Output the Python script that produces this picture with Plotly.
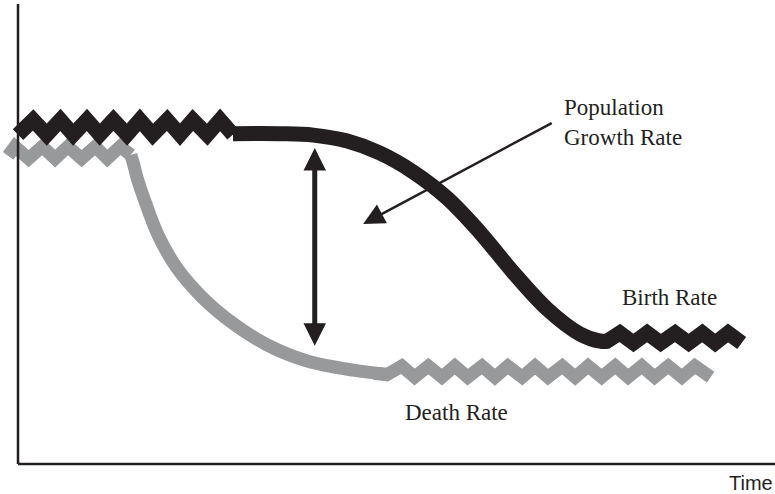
import plotly.graph_objects as go

# Demographic transition: birth rate (black) and death rate (grey) over time.
# Units: time 0-100 on x, rate 0-100 on y. Zigzag stretches mark the
# fluctuating pre- and post-transition rates.

birth_early_time = [0, 2.0, 3.8, 5.6, 7.3, 9.1, 10.8, 12.6, 14.4, 16.1, 17.8, 19.7, 21.4, 23.1, 25.0, 26.7, 28.4]
birth_early_rate = [71.6, 74.8, 71.6, 74.8, 71.6, 74.8, 71.6, 74.8, 71.6, 74.8, 71.6, 74.8, 71.6, 74.8, 71.6, 74.8, 71.6]

birth_trans_time = [28.4, 34.6, 39.0, 43.5, 47.8, 52.2, 56.7, 61.0, 65.4, 69.9, 74.2, 76.9, 77.8]
birth_trans_rate = [71.8, 71.8, 71.5, 70.2, 67.6, 63.5, 57.8, 50.4, 41.7, 33.7, 28.3, 26.7, 26.7]

birth_late_time = [76.9, 77.8, 79.5, 81.3, 83.1, 84.9, 86.8, 88.6, 90.4, 92.1, 93.8, 95.6]
birth_late_rate = [26.7, 26.7, 28.5, 26.3, 28.5, 26.3, 28.5, 26.3, 28.5, 26.3, 28.5, 26.3]

death_early_time = [-1.3, -0.4, 1.4, 3.2, 4.9, 6.6, 8.4, 10.2, 11.8, 13.5, 14.9]
death_early_rate = [67.0, 69.0, 66.4, 69.0, 66.4, 69.0, 66.4, 69.0, 66.4, 69.0, 67.2]

death_trans_time = [14.9, 15.3, 15.7, 16.8, 18.5, 21.0, 24.3, 28.3, 32.9, 38.2, 44.3, 48.7]
death_trans_rate = [67.2, 65.0, 62.4, 57.0, 49.8, 42.6, 36.3, 30.7, 25.9, 22.4, 20.4, 19.5]

death_late_time = [47.0, 48.7, 50.7, 52.4, 54.2, 56.0, 57.7, 59.4, 61.3, 63.0, 64.7, 66.6, 68.3,
                   70.0, 71.9, 73.6, 75.3, 77.1, 78.9, 80.6, 82.4, 84.1, 85.9, 87.7, 89.4, 91.5]
death_late_rate = [19.7, 19.4, 21.3, 18.9, 21.3, 18.9, 21.3, 18.9, 21.3, 18.9, 21.3, 18.9, 21.3,
                   18.9, 21.3, 18.9, 21.3, 18.9, 21.3, 18.9, 21.3, 18.9, 21.3, 18.9, 21.3, 18.9]

BLACK = '#231f20'
GREY = '#97999b'
SERIF = 'Liberation Serif'

fig = go.Figure()

death_parts = [
    (death_early_time, death_early_rate, 'linear'),
    (death_trans_time, death_trans_rate, 'spline'),
    (death_late_time, death_late_rate, 'linear'),
]
for xs, ys, shape in death_parts:
    fig.add_trace(go.Scatter(
        x=xs, y=ys, mode='lines',
        line=dict(color=GREY, width=13, shape=shape),
        hoverinfo='skip'
    ))

birth_parts = [
    (birth_early_time, birth_early_rate, 'linear'),
    (birth_trans_time, birth_trans_rate, 'spline'),
    (birth_late_time, birth_late_rate, 'linear'),
]
for xs, ys, shape in birth_parts:
    fig.add_trace(go.Scatter(
        x=xs, y=ys, mode='lines',
        line=dict(color=BLACK, width=15, shape=shape),
        hoverinfo='skip'
    ))

# axes drawn as plain lines
fig.add_shape(type='line', x0=0, y0=0, x1=0, y1=100, line=dict(color=BLACK, width=2.5))
fig.add_shape(type='line', x0=0, y0=0, x1=100, y1=0, line=dict(color=BLACK, width=2.5))

# gap between the two rates
fig.add_annotation(
    x=39.2, y=68.7, ax=39.2, ay=25.4, axref='x', ayref='y',
    text='', showarrow=True, arrowside='end+start',
    arrowhead=2, startarrowhead=2, arrowsize=0.9, startarrowsize=0.9,
    arrowwidth=5, arrowcolor=BLACK
)
fig.add_annotation(
    x=45.6, y=52.2, ax=70.7, ay=74.3, axref='x', ayref='y',
    text='', showarrow=True, arrowhead=2, arrowsize=1.7,
    arrowwidth=2.5, arrowcolor=BLACK
)

labels = [
    ('Population<br>Growth Rate', 71.9, 74.3),
    ('Birth Rate', 79.5, 36.3),
    ('Death Rate', 50.9, 11.2),
]
for text, x, y in labels:
    fig.add_annotation(
        x=x, y=y, text=text, showarrow=False,
        xanchor='left', yanchor='middle', align='left',
        font=dict(family=SERIF, size=23, color=BLACK)
    )

fig.add_annotation(
    x=1.0, y=-0.019, xref='paper', yref='paper',
    text='Time', showarrow=False, xanchor='right', yanchor='middle',
    font=dict(family='Liberation Sans', size=20, color=BLACK)
)

fig.update_layout(
    width=775, height=494,
    margin=dict(l=0, r=0, t=0, b=20),
    paper_bgcolor='white', plot_bgcolor='white',
    showlegend=False,
    xaxis=dict(range=[-2.378, 100], visible=False),
    yaxis=dict(range=[-2.17, 100.87], visible=False),
)

# drop the page's default body margin so the figure fills the window exactly
fig.write_html(
    "out.html",
    config={'displayModeBar': False},
    post_script="document.body.style.margin='0';",
)
